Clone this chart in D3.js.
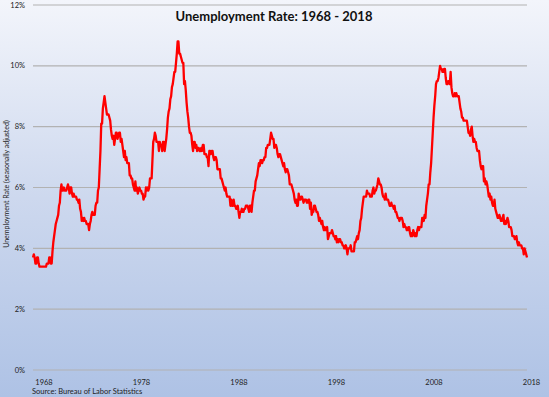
<!DOCTYPE html>
<html><head><meta charset="utf-8">
<script src="https://cdn.jsdelivr.net/npm/d3@7"></script>
<style>html,body{margin:0;padding:0;background:#fff;}svg{display:block;}</style>
</head><body>
<script>
const title = "Unemployment Rate: 1968 - 2018";
const yTitle = "Unemployment Rate (seasonally adjusted)";
const source = "Source: Bureau of Labor Statistics";
const startYear = 1968;
const yTicks = [0, 2, 4, 6, 8, 10, 12];
const xTickYears = [1968, 1978, 1988, 1998, 2008, 2018];
// Monthly unemployment rate, Jan 1968 - Sep 2018
const rates = [
3.7,3.8,3.7,3.5,3.5,3.7,3.7,3.5,3.4,3.4,3.4,3.4,
3.4,3.4,3.4,3.4,3.4,3.5,3.5,3.5,3.7,3.7,3.5,3.5,
3.9,4.2,4.4,4.6,4.8,4.9,5.0,5.1,5.4,5.5,5.9,6.1,
5.9,5.9,6.0,5.9,5.9,5.9,6.0,6.1,6.0,5.8,6.0,6.0,
5.8,5.7,5.8,5.7,5.7,5.7,5.6,5.6,5.5,5.6,5.3,5.2,
4.9,5.0,4.9,5.0,4.9,4.9,4.8,4.8,4.8,4.6,4.8,4.9,
5.1,5.2,5.1,5.1,5.1,5.4,5.5,5.5,5.9,6.0,6.6,7.2,
8.1,8.1,8.6,8.8,9.0,8.8,8.6,8.4,8.4,8.4,8.3,8.2,
7.9,7.7,7.6,7.7,7.4,7.6,7.8,7.8,7.6,7.7,7.8,7.8,
7.5,7.6,7.4,7.2,7.0,7.2,6.9,7.0,6.8,6.8,6.8,6.4,
6.4,6.3,6.3,6.1,6.0,5.9,6.2,5.9,6.0,5.8,5.9,6.0,
5.9,5.9,5.8,5.8,5.6,5.7,5.7,6.0,5.9,6.0,5.9,6.0,
6.3,6.3,6.3,6.9,7.5,7.6,7.8,7.7,7.5,7.5,7.5,7.2,
7.5,7.4,7.4,7.2,7.5,7.5,7.2,7.4,7.6,7.9,8.3,8.5,
8.6,8.9,9.0,9.3,9.4,9.6,9.8,9.8,10.1,10.4,10.8,10.8,
10.4,10.4,10.3,10.2,10.1,10.1,9.4,9.5,9.2,8.8,8.5,8.3,
8.0,7.8,7.8,7.7,7.4,7.2,7.5,7.5,7.3,7.4,7.2,7.3,
7.3,7.2,7.2,7.3,7.2,7.4,7.4,7.1,7.1,7.1,7.0,7.0,
6.7,7.2,7.2,7.1,7.2,7.2,7.0,6.9,7.0,7.0,6.9,6.6,
6.6,6.6,6.6,6.3,6.3,6.2,6.1,6.0,5.9,6.0,5.8,5.7,
5.7,5.7,5.7,5.4,5.6,5.4,5.4,5.6,5.4,5.4,5.3,5.3,
5.4,5.2,5.0,5.2,5.2,5.3,5.2,5.2,5.3,5.3,5.4,5.4,
5.4,5.3,5.2,5.4,5.4,5.2,5.5,5.7,5.9,5.9,6.2,6.3,
6.4,6.6,6.8,6.7,6.9,6.9,6.8,6.9,6.9,7.0,7.0,7.3,
7.3,7.4,7.4,7.4,7.6,7.8,7.7,7.6,7.6,7.3,7.4,7.4,
7.3,7.1,7.0,7.1,7.1,7.0,6.9,6.8,6.7,6.8,6.6,6.5,
6.6,6.6,6.5,6.4,6.1,6.1,6.1,6.0,5.9,5.8,5.6,5.5,
5.6,5.4,5.4,5.8,5.6,5.6,5.7,5.7,5.6,5.5,5.6,5.6,
5.6,5.5,5.5,5.6,5.6,5.3,5.5,5.1,5.2,5.2,5.4,5.4,
5.3,5.2,5.2,5.1,4.9,5.0,4.9,4.8,4.9,4.7,4.6,4.7,
4.6,4.6,4.7,4.3,4.4,4.5,4.5,4.5,4.6,4.5,4.4,4.4,
4.3,4.4,4.2,4.3,4.2,4.3,4.3,4.2,4.2,4.1,4.1,4.0,
4.0,4.1,4.0,3.8,4.0,4.0,4.0,4.1,3.9,3.9,3.9,3.9,
4.2,4.2,4.3,4.4,4.3,4.5,4.6,4.9,5.0,5.3,5.5,5.7,
5.7,5.7,5.7,5.9,5.8,5.8,5.8,5.7,5.7,5.7,5.9,6.0,
5.8,5.9,5.9,6.0,6.1,6.3,6.2,6.1,6.1,6.0,5.8,5.7,
5.7,5.6,5.8,5.6,5.6,5.6,5.5,5.4,5.4,5.5,5.4,5.4,
5.3,5.4,5.2,5.2,5.1,5.0,5.0,4.9,5.0,5.0,5.0,4.9,
4.7,4.8,4.7,4.7,4.6,4.6,4.7,4.7,4.5,4.4,4.5,4.4,
4.6,4.5,4.4,4.5,4.4,4.6,4.7,4.6,4.7,4.7,4.7,5.0,
5.0,4.9,5.1,5.0,5.4,5.6,5.8,6.1,6.1,6.5,6.8,7.3,
7.8,8.3,8.7,9.0,9.4,9.5,9.5,9.6,9.8,10.0,9.9,9.9,
9.8,9.8,9.9,9.9,9.6,9.4,9.4,9.5,9.5,9.4,9.8,9.3,
9.1,9.0,9.0,9.1,9.0,9.1,9.0,9.0,9.0,8.8,8.6,8.5,
8.3,8.3,8.2,8.2,8.2,8.2,8.2,8.0,7.8,7.8,7.7,7.9,
8.0,7.7,7.5,7.6,7.5,7.5,7.3,7.2,7.2,7.2,6.9,6.7,
6.6,6.7,6.7,6.2,6.3,6.1,6.2,6.1,5.9,5.7,5.8,5.6,
5.7,5.5,5.4,5.4,5.6,5.3,5.2,5.1,5.0,5.0,5.1,5.0,
4.9,4.9,5.0,5.1,4.8,4.9,4.8,4.9,5.0,4.9,4.7,4.7,
4.7,4.6,4.4,4.4,4.4,4.3,4.3,4.4,4.2,4.1,4.2,4.1,
4.1,4.1,4.0,4.0,3.8,4.0,3.9,3.8,3.7
];

const W = 549, H = 397;
const svg = d3.select("body").append("svg").attr("width", W).attr("height", H)
  .style("font-family", "Lato, 'Open Sans', sans-serif");

const defs = svg.append("defs");
const grad = defs.append("linearGradient").attr("id", "bg").attr("x1", 0).attr("y1", 0).attr("x2", 0).attr("y2", 1);
grad.append("stop").attr("offset", "0%").attr("stop-color", "#f3f5fb");
grad.append("stop").attr("offset", "50%").attr("stop-color", "#cdd8ee");
grad.append("stop").attr("offset", "100%").attr("stop-color", "#aec2e5");
svg.append("rect").attr("width", W).attr("height", H).attr("fill", "url(#bg)");

const dates = rates.map((v, i) => startYear + i / 12);
const x = d3.scaleLinear().domain([startYear, d3.max(dates)]).range([33, 527]);
const y = d3.scaleLinear().domain([0, 12]).range([370, 5]);

// gridlines
svg.append("g").selectAll("line").data(yTicks).join("line")
  .attr("x1", 33).attr("x2", 527)
  .attr("y1", d => y(d)).attr("y2", d => y(d))
  .attr("stroke", "#b2b2b2").attr("stroke-width", 1.2);

// y labels
svg.append("g").selectAll("text").data(yTicks).join("text")
  .attr("x", 25).attr("y", d => y(d)).attr("dy", "0.35em")
  .attr("text-anchor", "end").attr("font-size", 7.5).attr("fill", "#222")
  .text(d => d + "%");

// x labels
svg.append("g").selectAll("text").data(xTickYears).join("text")
  .attr("x", d => x(d) + 11).attr("y", 382).attr("dy", "0.35em")
  .attr("text-anchor", "middle").attr("font-size", 7.5).attr("fill", "#222")
  .text(d => d);

// line
const line = d3.line().x((d, i) => x(dates[i])).y(d => y(d));
svg.append("path").datum(rates).attr("d", line)
  .attr("fill", "none").attr("stroke", "#ff0000").attr("stroke-width", 2.3)
  .attr("stroke-linejoin", "round");

// title
svg.append("text").attr("x", 274).attr("y", 16).attr("dy", "0.35em")
  .attr("text-anchor", "middle").attr("font-size", 13).attr("font-weight", "bold")
  .attr("fill", "#111").text(title);

// y title
svg.append("text").attr("transform", "translate(7,184) rotate(-90)")
  .attr("dy", "0.35em").attr("text-anchor", "middle").attr("font-size", 7)
  .attr("fill", "#222").text(yTitle);

// source
svg.append("text").attr("x", 32).attr("y", 391).attr("dy", "0.35em")
  .attr("font-size", 7.5).attr("fill", "#222").text(source);
</script>
</body></html>
